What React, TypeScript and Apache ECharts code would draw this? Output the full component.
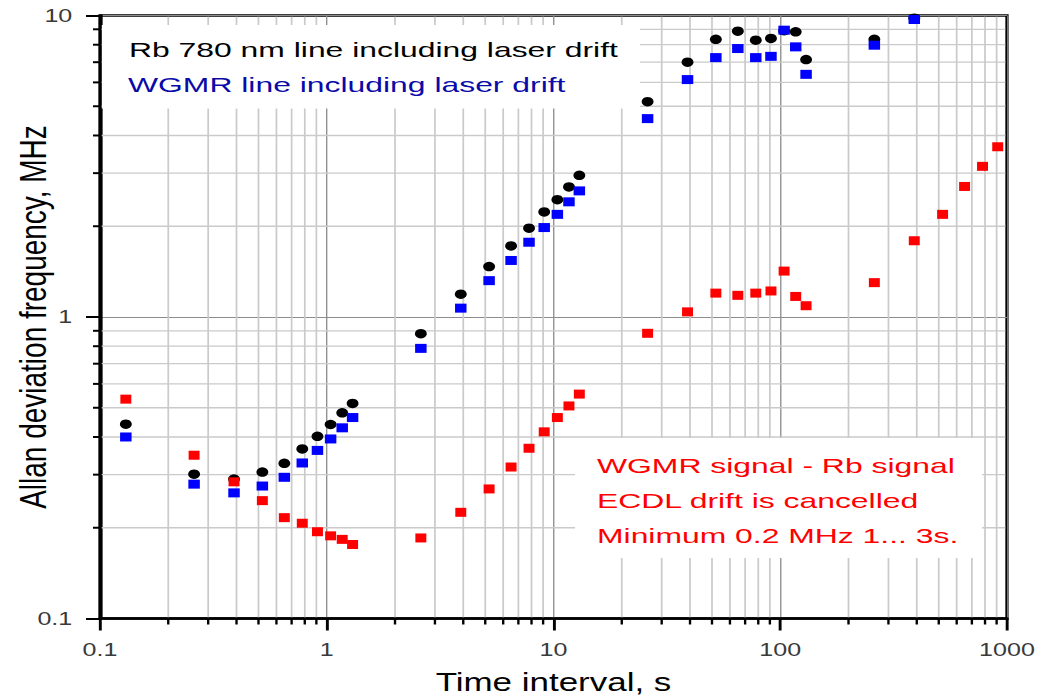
import React, { useEffect, useRef } from 'react';
import * as echarts from 'echarts';

// The figure is laid out in a narrower box and widened with a horizontal stretch,
// which gives the wide lettering and oval markers of the original plot.
const STRETCH = 1.32;
const CHART_W = 792;
const CHART_H = 696;

const X_MIN = 0.1;
const X_MAX = 1000;
const Y_MIN = 0.1;
const Y_MAX = 10;

const FONT = "'Liberation Sans', Arial, Helvetica, sans-serif";

// Averaging times, s
const tau = [
  0.13, 0.26, 0.39, 0.52, 0.65, 0.78, 0.91, 1.04, 1.17, 1.3,
  2.6, 3.9, 5.2, 6.5, 7.8, 9.1, 10.4, 11.7, 13,
  26, 39, 52, 65, 78, 91, 104, 117, 130,
  260, 390,
];
const tauDiff = [...tau, 520, 650, 780, 910, 1040];

// Allan deviation, MHz
const rbLine = [
  0.441, 0.301, 0.29, 0.306, 0.327, 0.365, 0.402, 0.44, 0.481, 0.517,
  0.88, 1.19, 1.47, 1.72, 1.97, 2.23, 2.45, 2.7, 2.95,
  5.18, 7.0, 8.34, 8.87, 8.28, 8.39, 8.9, 8.83, 7.14,
  8.34, 9.8,
];
const wgmrLine = [
  0.4, 0.279, 0.261, 0.275, 0.294, 0.328, 0.361, 0.394, 0.429, 0.464,
  0.787, 1.07, 1.32, 1.54, 1.77, 1.98, 2.19, 2.41, 2.62,
  4.55, 6.13, 7.25, 7.77, 7.25, 7.32, 8.94, 7.87, 6.38,
  7.97, 9.7,
];
const wgmrMinusRb = [
  0.534, 0.348, 0.284, 0.246, 0.216, 0.207, 0.194, 0.188, 0.183, 0.176,
  0.185, 0.225, 0.269, 0.318, 0.367, 0.416, 0.464, 0.507, 0.555,
  0.883, 1.04, 1.2, 1.18, 1.2, 1.22, 1.42, 1.17, 1.09,
  1.3, 1.79, 2.19, 2.71, 3.16, 3.67, 4.34,
];

// Minor grid positions inside each decade
const xMinorTicks = [
  0.2, 0.3, 0.4, 0.5, 0.6, 0.7, 0.8, 0.9,
  2, 3, 4, 5, 6, 7, 8, 9,
  20, 30, 40, 50, 60, 70, 80, 90,
  200, 300, 400, 500, 600, 700, 800, 900,
];
const yMinorTicks = [0.2, 0.3, 0.4, 0.5, 0.6, 0.7, 0.8, 0.9, 2, 3, 4, 5, 6, 7, 8, 9];

const legendLines = ['Rb 780 nm line including laser drift', 'WGMR line including laser drift'];
const noteLines = ['WGMR signal - Rb signal', 'ECDL drift is cancelled', 'Minimum 0.2 MHz 1... 3s.'];

const sx = (px: number) => px / STRETCH;
const plainNumber = (v: number) => String(+Number(v).toPrecision(6));

function textEl(text: string, x: number, y: number, color: string, size: number, extraScale: number) {
  return {
    type: 'text',
    x,
    y,
    scaleX: extraScale,
    z: 11,
    silent: true,
    style: {
      text,
      x: 0,
      y: 0,
      fill: color,
      fontSize: size,
      fontFamily: FONT,
      align: 'left',
      verticalAlign: 'middle',
      textAlign: 'left',
      textVerticalAlign: 'middle',
    },
  };
}

export default function App() {
  const ref = useRef<HTMLDivElement>(null);

  useEffect(() => {
    if (!ref.current) return;
    const chart = echarts.init(ref.current, null, { renderer: 'svg' });

    const option: any = {
      animation: false,
      backgroundColor: '#ffffff',
      grid: {
        show: true,
        left: sx(100),
        right: CHART_W - sx(1007),
        top: 15.5,
        bottom: CHART_H - 618.5,
        borderColor: '#000',
        borderWidth: 2.5,
        backgroundColor: 'transparent',
        containLabel: false,
        outerBoundsMode: 'none',
      },
      xAxis: {
        type: 'log',
        logBase: 10,
        min: X_MIN,
        max: X_MAX,
        name: 'Time interval, s',
        nameLocation: 'middle',
        nameGap: 50,
        nameMoveOverlap: false,
        nameTextStyle: { fontSize: 26.5, color: '#000', fontFamily: FONT },
        axisLine: { show: true, lineStyle: { color: '#000', width: 2.5 } },
        axisTick: { show: true, inside: false, length: 12, lineStyle: { color: '#000', width: 2.2 } },
        axisLabel: { margin: 22, fontSize: 19, color: '#3a3a3a', fontFamily: FONT, formatter: plainNumber },
        splitLine: { show: true, lineStyle: { color: '#8c8c8c', width: 1 } },
        minorTick: { show: false },
      },
      yAxis: {
        type: 'log',
        logBase: 10,
        min: Y_MIN,
        max: Y_MAX,
        name: 'Allan deviation frequency, MHz',
        nameLocation: 'middle',
        nameGap: 37,
        nameMoveOverlap: false,
        nameTextStyle: { fontSize: 28, color: '#000', fontFamily: FONT },
        axisLine: { show: true, lineStyle: { color: '#000', width: 2.5 } },
        axisTick: { show: true, inside: false, length: 10.6, lineStyle: { color: '#000', width: 2 } },
        axisLabel: { margin: 21, fontSize: 19, color: '#3a3a3a', fontFamily: FONT, formatter: plainNumber },
        splitLine: { show: true, lineStyle: { color: '#8c8c8c', width: 1 } },
        minorTick: { show: false },
      },
      series: [
        {
          // vertical minor grid lines with their ticks below the time axis
          type: 'custom',
          z: 1,
          clip: false,
          silent: true,
          data: xMinorTicks.map((v) => [v, Y_MIN]),
          encode: { x: 0, y: 1 },
          renderItem: (_params: any, api: any) => {
            const v = api.value(0);
            const top = api.coord([v, Y_MAX]);
            const bot = api.coord([v, Y_MIN]);
            return {
              type: 'group',
              children: [
                {
                  type: 'line',
                  shape: { x1: top[0], y1: top[1] + 1.3, x2: bot[0], y2: bot[1] - 1.3 },
                  style: { stroke: '#cacaca', lineWidth: 1.3 },
                },
                {
                  type: 'line',
                  shape: { x1: bot[0], y1: bot[1], x2: bot[0], y2: bot[1] + 6 },
                  style: { stroke: '#000', lineWidth: 1.8 },
                },
              ],
            };
          },
        },
        {
          // horizontal minor grid lines with their ticks left of the deviation axis
          type: 'custom',
          z: 1,
          clip: false,
          silent: true,
          data: yMinorTicks.map((v) => [X_MIN, v]),
          encode: { x: 0, y: 1 },
          renderItem: (_params: any, api: any) => {
            const v = api.value(1);
            const left = api.coord([X_MIN, v]);
            const right = api.coord([X_MAX, v]);
            return {
              type: 'group',
              children: [
                {
                  type: 'line',
                  shape: { x1: left[0] + 1.3, y1: left[1], x2: right[0] - 1.3, y2: right[1] },
                  style: { stroke: '#cacaca', lineWidth: 1.3 },
                },
                {
                  type: 'line',
                  shape: { x1: left[0] - 5.3, y1: left[1], x2: left[0], y2: left[1] },
                  style: { stroke: '#000', lineWidth: 2 },
                },
              ],
            };
          },
        },
        {
          name: 'Rb 780 nm line',
          type: 'scatter',
          z: 2,
          symbol: 'circle',
          symbolSize: [9, 9.5],
          itemStyle: { color: '#000000', opacity: 1 },
          data: tau.map((t, i) => [t, rbLine[i]]),
        },
        {
          name: 'WGMR line',
          type: 'scatter',
          z: 3,
          symbol: 'rect',
          symbolSize: [8.7, 9],
          itemStyle: { color: '#0000ff', opacity: 1 },
          data: tau.map((t, i) => [t, wgmrLine[i]]),
        },
        {
          name: 'WGMR signal - Rb signal',
          type: 'scatter',
          z: 4,
          symbol: 'rect',
          symbolSize: [8.3, 9],
          itemStyle: { color: '#ff0000', opacity: 1 },
          data: tauDiff.map((t, i) => [t, wgmrMinusRb[i]]),
        },
      ],
      graphic: {
        elements: [
          {
            type: 'rect',
            z: 10,
            silent: true,
            shape: { x: sx(101.8), y: 25, width: sx(640) - sx(101.8), height: 83.5 },
            style: { fill: '#ffffff' },
          },
          {
            type: 'rect',
            z: 10,
            silent: true,
            shape: { x: sx(575), y: 438, width: sx(982) - sx(575), height: 120 },
            style: { fill: '#ffffff' },
          },
          textEl(legendLines[0], sx(129), 50, '#000000', 21, 1.15),
          textEl(legendLines[1], sx(128), 84.5, '#0a0aa8', 21, 1.15),
          textEl(noteLines[0], sx(597), 465.5, '#ff0000', 21, 1.15),
          textEl(noteLines[1], sx(597), 500.5, '#ff0000', 21, 1.15),
          textEl(noteLines[2], sx(597), 535.5, '#ff0000', 21, 1.15),
        ],
      },
    };

    chart.setOption(option);
    return () => chart.dispose();
  }, []);

  return (
    <div
      style={{
        position: 'fixed',
        left: 0,
        top: 0,
        width: 1045,
        height: 696,
        overflow: 'hidden',
        background: '#ffffff',
      }}
    >
      <div
        ref={ref}
        style={{
          width: CHART_W,
          height: CHART_H,
          transform: `scaleX(${STRETCH})`,
          transformOrigin: '0 0',
        }}
      />
    </div>
  );
}
